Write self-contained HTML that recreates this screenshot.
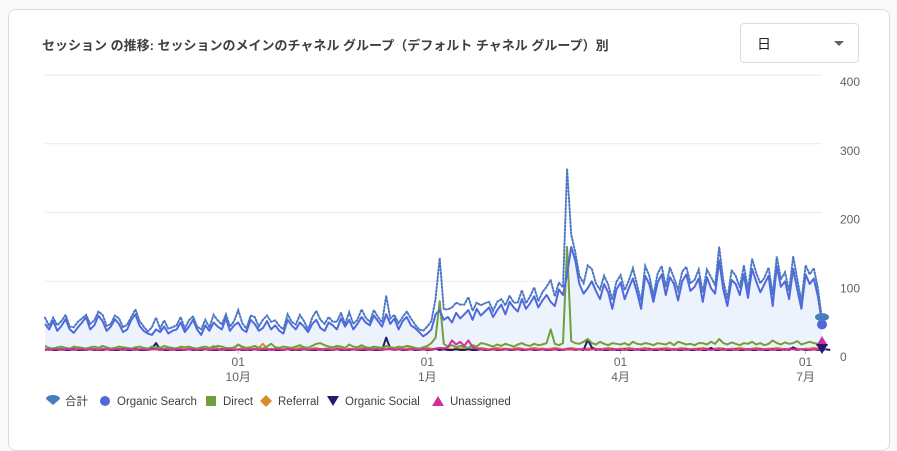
<!DOCTYPE html>
<html><head><meta charset="utf-8">
<style>
html,body{margin:0;padding:0;background:#f8f9fa;width:897px;height:432px;overflow:hidden;font-family:"Liberation Sans","Noto Sans CJK JP",sans-serif;}
.card{position:absolute;left:8px;top:9px;width:880px;height:440px;background:#fff;border:1px solid #dadce0;border-radius:8px;}
.title{position:absolute;left:42px;top:35px;font-size:13px;font-weight:bold;color:#3c4043;white-space:nowrap;}
.dd{position:absolute;left:740px;top:23px;width:117px;height:38px;border:1px solid #dadce0;border-radius:4px;background:#fff;}
.dd span{position:absolute;left:16px;top:10px;font-size:14px;color:#202124;}
.dd i{position:absolute;right:14px;top:17px;width:0;height:0;border-left:5px solid transparent;border-right:5px solid transparent;border-top:5px solid #5f6368;}
svg{position:absolute;left:0;top:0;}
</style></head><body>
<div class="card"></div>
<div class="title">セッション の推移: セッションのメインのチャネル グループ（デフォルト チャネル グループ）別</div>
<div class="dd"><span>日</span><i></i></div>
<svg id="chart" width="897" height="432"></svg>
<script>
const organic=[38,30,42,28,35,45,30,25,33,40,48,30,36,50,42,28,
34,45,38,26,30,44,52,35,28,24,22,30,26,34,24,28,
30,40,26,34,44,30,22,36,28,40,34,30,46,28,36,
40,30,26,44,38,28,32,42,30,36,28,24,44,36,30,40,
34,26,38,44,32,28,40,36,30,46,34,44,30,38,48,
40,36,50,42,34,52,38,46,30,42,48,36,32,26,20,24,
30,52,58,44,48,40,54,46,52,58,44,60,50,56,62,48,
58,66,52,70,62,56,74,60,68,78,62,72,80,70,
64,88,80,110,150,130,96,82,90,100,86,74,96,84,60,88,
98,74,90,104,84,60,108,96,70,98,110,80,106,96,72,
100,110,86,92,104,70,106,90,82,130,88,64,102,96,80,110,
76,118,100,84,96,108,64,122,92,100,74,118,88,60,110,
96,104,78,40];
const direct=[6,3,2,4,5,3,2,5,4,3,2,4,5,3,6,4,2,3,5,4,3,2,4,5,3,2,5,4,3,6,4,3,2,5,4,5,3,2,4,5,3,4,6,5,3,2,4,8,5,3,4,6,3,2,5,9,4,3,5,4,3,5,7,4,3,6,9,10,7,5,4,6,5,3,8,5,4,7,4,3,5,4,3,6,4,3,5,4,6,5,3,2,4,6,10,18,71,9,5,7,4,6,5,3,7,5,10,9,7,5,8,6,9,7,5,8,10,7,6,9,7,8,10,30,9,7,10,150,13,10,9,12,16,10,8,12,9,7,10,9,8,10,7,12,9,8,10,9,7,10,9,8,11,7,12,10,8,9,7,10,10,8,12,9,16,10,8,11,9,7,10,9,12,8,10,7,9,14,10,8,11,9,10,13,8,10,12,10,9,4];
const referral=[2,1,2,3,1,2,1,2,3,2,1,2,1,3,2,1,2,1,2,2,3,1,2,1,2,1,3,2,1,2,2,1,3,2,1,2,1,2,3,1,2,6,2,1,2,3,2,8,3,2,1,2,3,9,2,1,2,3,1,2,1,2,3,2,1,2,3,1,2,2,1,3,2,1,2,1,2,3,2,1,2,1,3,2,1,2,2,1,2,3,1,2,2,3,2,1,2,3,2,1,2,2,3,1,2,2,3,2,1,2,3,2,2,1,2,3,2,1,2,3,2,2,1,2,3,2,1,2,3,2,1,2,2,3,2,1,2,3,2,1,2,2,3,2,1,2,3,2,1,2,2,3,2,1,2,3,2,1,2,2,3,2,1,2,3,2,1,2,2,3,2,1,2,3,2,1,2,2,3,2,1,2,3,2,1,2,2,3,2,1];
const social=[0,1,0,0,1,0,0,1,0,0,0,1,0,0,0,1,0,0,0,1,0,0,1,0,0,0,2,10,1,0,0,1,0,0,0,1,0,0,0,1,0,0,0,1,0,0,0,1,0,0,0,1,0,0,0,1,0,0,0,1,0,0,0,1,0,0,0,1,0,0,0,1,0,0,0,1,0,0,0,1,0,0,0,18,2,0,1,0,0,1,0,0,1,0,0,2,0,1,0,0,1,0,0,1,0,0,1,0,0,1,0,0,1,0,0,1,0,0,1,0,0,1,0,0,1,0,0,1,1,0,1,0,15,4,0,1,0,0,1,0,0,1,0,0,1,0,0,1,0,0,1,0,0,1,0,0,1,0,0,1,0,0,3,0,0,1,0,0,1,0,0,1,0,0,1,0,0,1,0,0,1,0,4,0,1,0,0,1,0,0,1,0];
const unassigned=[1,0,1,1,0,1,1,0,1,1,0,1,1,0,1,1,0,1,1,0,1,1,0,1,1,0,1,1,0,1,1,0,1,1,0,1,1,0,1,1,0,1,1,0,1,1,0,1,1,0,1,1,0,1,1,0,1,1,0,1,1,0,1,1,0,1,1,0,1,1,0,1,1,0,1,1,0,1,1,0,1,1,0,1,1,0,1,1,0,1,1,0,1,1,0,2,3,2,4,14,8,12,6,14,4,2,1,1,0,1,1,0,1,1,0,1,1,0,1,1,0,1,1,0,1,1,0,1,1,0,1,1,0,1,1,0,1,1,0,1,1,0,1,1,0,1,1,0,1,1,0,1,1,0,1,1,0,1,1,0,1,1,0,1,1,0,1,1,0,1,1,0,1,1,0,1,1,0,1,1,0,1,1,0,1,1,0,1,1,0,1];
const yTicks=[0,100,200,300,400];
const xTickIdx=[47,93,140,185];
const xTickDay=["01","01","01","01"];
const xTickMonth=["10月","1月","4月","7月"];

const NS="http://www.w3.org/2000/svg";
const svg=document.getElementById('chart');
const X0=45,X1=822,Y0=350,YS=275/400;
const n=organic.length;
const xs=i=>X0+i*(X1-X0)/(n-1);
const ys=v=>Y0-v*YS;
function mk(t,a){const e=document.createElementNS(NS,t);for(const k in a)e.setAttribute(k,a[k]);svg.appendChild(e);return e;}
const total=organic.map((v,i)=>v+direct[i]+referral[i]+social[i]+unassigned[i]);

yTicks.forEach(t=>{
 const g=mk('line',{x1:X0,x2:X1,y1:ys(t),y2:ys(t),stroke:t===0?'#bdc1c6':'#e8eaed','stroke-width':1});
 
 
 const l=mk('text',{x:840,y:ys(t)+11,'font-size':12,fill:'#5f6368','text-anchor':'start'});
 l.textContent=t;
 
 
});
xTickIdx.forEach((d,k)=>{
 const x=xs(d);
 const tk=mk('line',{x1:x,x2:x,y1:Y0,y2:Y0+4,stroke:'#bdc1c6'});
 
 
 const a=mk('text',{x:x,y:366,'font-size':12,fill:'#5f6368','text-anchor':'middle'});a.textContent=xTickDay[k];
 
 
 const b=mk('text',{x:x,y:381,'font-size':12,fill:'#5f6368','text-anchor':'middle'});b.textContent=xTickMonth[k];
 
 
});
const pts=arr=>arr.map((v,i)=>xs(i).toFixed(1)+','+ys(v).toFixed(1)).join(' ');
const area=mk('polygon',{points:pts(organic)+' '+xs(n-1)+','+Y0+' '+X0+','+Y0,fill:'#edf3fd'});


const series=[[referral,'#d98c2b','referral-line'],[social,'#241a6e','organic-social-line'],[direct,'#6fa03a','direct-line'],[unassigned,'#d0309a','unassigned-line'],[organic,'#5068dc','organic-search-line']];
series.forEach(s=>{
 const p=mk('polyline',{points:pts(s[0]),fill:'none',stroke:s[1],'stroke-width':2,'stroke-linejoin':'round'});
 
 
});
const tl=mk('polyline',{points:pts(total),fill:'none',stroke:'#4a78c4','stroke-width':2,'stroke-dasharray':'1.5 2','stroke-linecap':'round'});


const ex=xs(n-1);
const m1=mk('circle',{cx:ex,cy:ys(organic[n-1])+2,r:5,fill:'#5068dc'});


const m0=mk('ellipse',{cx:ex,cy:ys(total[n-1])-2,rx:7,ry:4,fill:'#4a7ebb'});


const m2=mk('polygon',{points:`${ex-6},${ys(unassigned[n-1])-4} ${ex+6},${ys(unassigned[n-1])-4} ${ex},${ys(unassigned[n-1])-14}`,fill:'#d0309a'});


const m3=mk('polygon',{points:`${ex-6},${Y0-6} ${ex+6},${Y0-6} ${ex},${Y0+4}`,fill:'#241a6e'});



// legend
const leg=[['合計','pin','#4a7ebb',46],['Organic Search','circle','#5068dc',98],['Direct','square','#6fa03a',204],['Referral','diamond','#d98c2b',259],['Organic Social','down','#241a6e',326],['Unassigned','up','#d0309a',431]];
const ly=401;
leg.forEach(l=>{
 const lx=l[3];
 let sh;
 if(l[1]==='pin')sh=mk('path',{d:`M${lx},${ly-2} a7,4 0 0 1 14,0 l-7,6 z`,fill:l[2]});
 else if(l[1]==='circle')sh=mk('circle',{cx:lx+7,cy:ly,r:5,fill:l[2]});
 else if(l[1]==='square')sh=mk('rect',{x:lx+2,y:ly-5,width:10,height:10,fill:l[2]});
 else if(l[1]==='diamond')sh=mk('polygon',{points:`${lx+7},${ly-6} ${lx+13},${ly} ${lx+7},${ly+6} ${lx+1},${ly}`,fill:l[2]});
 else if(l[1]==='down')sh=mk('polygon',{points:`${lx+1},${ly-5} ${lx+13},${ly-5} ${lx+7},${ly+5}`,fill:l[2]});
 else sh=mk('polygon',{points:`${lx+1},${ly+5} ${lx+13},${ly+5} ${lx+7},${ly-5}`,fill:l[2]});
 
 
 const t=mk('text',{x:lx+19,y:ly+4,'font-size':11.5,fill:'#3c4043'});
 t.textContent=l[0];
 
 
});
</script>
</body></html>
